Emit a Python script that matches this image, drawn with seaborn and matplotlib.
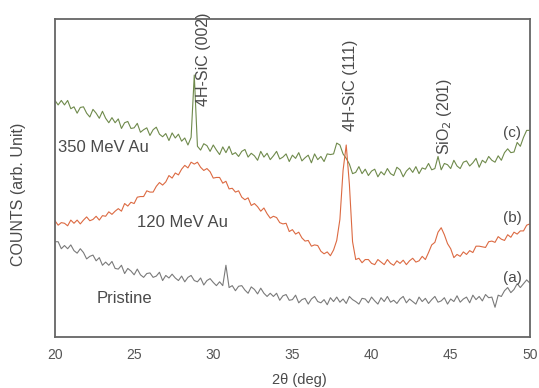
import numpy as np
import pandas as pd
import matplotlib
matplotlib.use("Agg")
import matplotlib.pyplot as plt
import seaborn as sns

# 2-theta grid (deg), step 0.2
two_theta = np.round(np.arange(20.0, 50.0001, 0.2), 1)

# (c) 350 MeV Au
counts_c = [
    3.72, 3.65, 3.72, 3.65, 3.72,
    3.59, 3.62, 3.52, 3.61, 3.62,
    3.52, 3.46, 3.58, 3.52, 3.44,
    3.55, 3.44, 3.37, 3.45, 3.37,
    3.43, 3.28, 3.37, 3.39, 3.28,
    3.29, 3.36, 3.22, 3.26, 3.29,
    3.17, 3.26, 3.30, 3.19, 3.15,
    3.20, 3.09, 3.21, 3.13, 3.19,
    3.08, 3.13, 3.02, 3.14, 4.12,
    3.00, 2.94, 3.04, 3.01, 2.92,
    3.02, 2.94, 2.87, 2.99, 2.90,
    3.00, 2.87, 2.90, 2.84, 2.92,
    2.95, 2.83, 2.89, 2.85, 2.78,
    2.92, 2.83, 2.89, 2.79, 2.85,
    2.92, 2.80, 2.83, 2.88, 2.76,
    2.86, 2.81, 2.90, 2.77, 2.82,
    2.86, 2.74, 2.88, 2.79, 2.84,
    2.76, 2.88, 2.87, 2.88, 3.05,
    3.02, 2.88, 2.81, 2.72, 2.57,
    2.59, 2.68, 2.57, 2.64, 2.54,
    2.61, 2.64, 2.52, 2.60, 2.55,
    2.65, 2.57, 2.54, 2.67, 2.63,
    2.52, 2.61, 2.66, 2.59, 2.68,
    2.57, 2.66, 2.64, 2.73, 2.63,
    2.65, 2.84, 2.63, 2.73, 2.71,
    2.65, 2.78, 2.69, 2.65, 2.75,
    2.77, 2.69, 2.74, 2.81, 2.67,
    2.78, 2.74, 2.84, 2.78, 2.75,
    2.85, 2.78, 2.90, 2.96, 2.90,
    2.91, 3.06, 3.00, 3.14, 3.25,
    3.25,
]

# (b) 120 MeV Au
counts_b = [
    1.83, 1.76, 1.80, 1.79, 1.75,
    1.84, 1.79, 1.84, 1.78, 1.84,
    1.89, 1.83, 1.85, 1.90, 1.84,
    1.91, 1.90, 1.97, 1.93, 1.98,
    2.02, 1.98, 2.10, 2.06, 2.12,
    2.10, 2.20, 2.21, 2.21, 2.30,
    2.28, 2.28, 2.37, 2.43, 2.39,
    2.44, 2.54, 2.50, 2.58, 2.55,
    2.64, 2.70, 2.66, 2.75, 2.72,
    2.75, 2.67, 2.62, 2.65, 2.60,
    2.50, 2.51, 2.51, 2.42, 2.45,
    2.33, 2.34, 2.28, 2.30, 2.20,
    2.16, 2.19, 2.07, 2.10, 2.05,
    1.98, 2.03, 1.94, 1.87, 1.90,
    1.88, 1.80, 1.78, 1.79, 1.66,
    1.69, 1.62, 1.65, 1.56, 1.51,
    1.52, 1.43, 1.45, 1.44, 1.35,
    1.31, 1.34, 1.28, 1.37, 1.52,
    1.85, 2.62, 3.02, 2.40, 1.50,
    1.22, 1.24, 1.17, 1.22, 1.22,
    1.16, 1.14, 1.22, 1.18, 1.14,
    1.22, 1.16, 1.13, 1.20, 1.16,
    1.21, 1.14, 1.20, 1.24, 1.18,
    1.20, 1.27, 1.22, 1.33, 1.45,
    1.49, 1.65, 1.72, 1.61, 1.47,
    1.39, 1.25, 1.30, 1.27, 1.34,
    1.30, 1.36, 1.33, 1.43, 1.43,
    1.42, 1.41, 1.50, 1.51, 1.49,
    1.58, 1.54, 1.52, 1.61, 1.57,
    1.65, 1.62, 1.67, 1.67, 1.76,
    1.78,
]

# (a) Pristine
counts_a = [
    1.50, 1.50, 1.39, 1.44, 1.39,
    1.45, 1.36, 1.32, 1.39, 1.33,
    1.23, 1.27, 1.29, 1.20, 1.25,
    1.13, 1.18, 1.13, 1.19, 1.08,
    1.07, 1.13, 1.00, 1.08, 1.04,
    0.98, 1.07, 0.98, 0.94, 1.00,
    1.01, 0.94, 0.96, 1.02, 0.89,
    0.97, 0.93, 0.99, 0.93, 0.89,
    0.96, 0.87, 0.94, 0.97, 0.89,
    0.87, 0.93, 0.82, 0.89, 0.92,
    0.86, 0.81, 0.87, 0.81, 1.13,
    0.78, 0.81, 0.73, 0.80, 0.81,
    0.74, 0.69, 0.79, 0.75, 0.68,
    0.77, 0.69, 0.64, 0.69, 0.64,
    0.69, 0.58, 0.65, 0.67, 0.58,
    0.59, 0.66, 0.54, 0.59, 0.61,
    0.52, 0.60, 0.64, 0.56, 0.54,
    0.59, 0.51, 0.62, 0.56, 0.63,
    0.55, 0.60, 0.53, 0.64, 0.59,
    0.56, 0.52, 0.61, 0.60, 0.54,
    0.63, 0.57, 0.52, 0.62, 0.56,
    0.64, 0.55, 0.58, 0.53, 0.60,
    0.64, 0.54, 0.60, 0.56, 0.52,
    0.63, 0.56, 0.61, 0.53, 0.59,
    0.64, 0.55, 0.57, 0.62, 0.52,
    0.60, 0.56, 0.65, 0.55, 0.60,
    0.63, 0.54, 0.66, 0.59, 0.64,
    0.57, 0.67, 0.62, 0.63, 0.47,
    0.66, 0.64, 0.73, 0.78, 0.70,
    0.75, 0.84, 0.78, 0.84, 0.90,
    0.85,
]

x_ticks = [20, 25, 30, 35, 40, 45, 50]
series_tags = ["(c)", "(b)", "(a)"]
series_names = ["350 MeV Au", "120 MeV Au", "Pristine"]
peak_labels = ["4H-SiC (002)", "4H-SiC (111)", "SiO$_2$ (201)"]

sns.set_style("white")
plt.rcParams["font.family"] = ["Liberation Sans", "DejaVu Sans"]

fig = plt.figure(figsize=(5.39, 3.88), dpi=100)
ax = fig.add_axes([0.102, 0.131, 0.881, 0.820])

df = pd.DataFrame({
    "x": np.concatenate([two_theta] * 3),
    "y": np.concatenate([counts_c, counts_b, counts_a]),
    "s": ["c"] * len(two_theta) + ["b"] * len(two_theta) + ["a"] * len(two_theta),
})
palette = {"c": "#6f8a4c", "b": "#dc6a42", "a": "#7a7a7a"}
sns.lineplot(data=df, x="x", y="y", hue="s", palette=palette, lw=0.8,
             legend=False, ax=ax, estimator=None, sort=False)

ax.set_xlim(20, 50)
ax.set_ylim(0, 5)
ax.set_xticks(x_ticks)
ax.set_xticks([22.5, 27.5, 32.5, 37.5, 42.5, 47.5], minor=True)
ax.set_yticks([0, 1, 2, 3, 4])
ax.set_yticklabels([])
ax.tick_params(axis="both", which="both", direction="in", color="#555555",
               labelcolor="#555555", labelsize=10, length=4, width=1, pad=8)
ax.tick_params(axis="x", which="minor", length=3)
for s in ax.spines.values():
    s.set_color("#666666")
    s.set_linewidth(1.3)

tc = "#4a4a4a"
ax.set_xlabel("2θ (deg)", fontsize=10.5, color=tc)
ax.xaxis.set_label_coords(0.514, -0.112)
ax.set_ylabel("COUNTS (arb. Unit)", fontsize=11.5, color=tc)
ax.yaxis.set_label_coords(-0.062, 0.448)

ax.text(29.4, 5.1, peak_labels[0], rotation=90, ha="center", va="top", fontsize=11.5, color=tc)
ax.text(38.7, 4.67, peak_labels[1], rotation=90, ha="center", va="top", fontsize=11.5, color=tc)
ax.text(44.6, 4.07, peak_labels[2], rotation=90, ha="center", va="top", fontsize=11.5, color=tc)

ax.text(20.2, 2.98, series_names[0], ha="left", va="center", fontsize=12, color=tc)
ax.text(25.2, 1.8, series_names[1], ha="left", va="center", fontsize=12, color=tc)
ax.text(22.6, 0.6, series_names[2], ha="left", va="center", fontsize=12, color=tc)

ax.text(48.9, 3.21, series_tags[0], ha="center", va="center", fontsize=11, color=tc)
ax.text(48.9, 1.87, series_tags[1], ha="center", va="center", fontsize=11, color=tc)
ax.text(48.9, 0.93, series_tags[2], ha="center", va="center", fontsize=11, color=tc)

fig.savefig("out.png", dpi=100)
